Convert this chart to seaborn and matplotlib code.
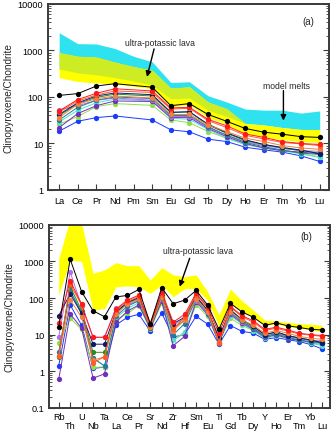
import numpy as np
import pandas as pd
import matplotlib
matplotlib.use("Agg")
import matplotlib.pyplot as plt
import seaborn as sns

# ---------------- data ----------------
ree = ["La", "Ce", "Pr", "Nd", "Pm", "Sm", "Eu", "Gd", "Tb", "Dy", "Ho", "Er", "Tm", "Yb", "Lu"]
spider = ["Rb", "Th", "U", "Nb", "Ta", "La", "Ce", "Pr", "Sr", "Nd", "Zr", "Hf", "Sm", "Eu",
          "Ti", "Gd", "Tb", "Dy", "Y", "Ho", "Er", "Tm", "Yb", "Lu"]
ree_measured = ["La", "Ce", "Pr", "Nd", "Sm", "Eu", "Gd", "Tb", "Dy", "Ho", "Er", "Tm", "Yb", "Lu"]
trace_only = ["Rb", "Th", "U", "Nb", "Ta", "Sr", "Zr", "Hf", "Ti", "Y"]

series_names = ["blue", "lightgreen", "cyan", "purple", "violet", "teal",
                "darkgreen", "navy", "coral", "orangered", "red", "black"]
series_colors = ["#1a3aff", "#8ee04a", "#4fe0d2", "#7030b8", "#b46ee6", "#2c7898",
                 "#2a8a2a", "#0c1a6c", "#f08040", "#ff5a2a", "#ff1a1a", "#000000"]

# REE (La Ce Pr Nd Sm Eu Gd Tb Dy Ho Er Tm Yb Lu)
ree_vals = {
    "black":      [108, 118, 172, 193, 162, 65, 72, 42, 30, 21, 17.5, 15.8, 14, 13.5],
    "red":        [50, 88, 120, 150, 135, 58, 60, 33, 24, 16, 13.5, 11, 10, 9.5],
    "orangered":  [47, 82, 110, 135, 125, 55, 57, 31, 22, 15, 12.5, 10.5, 9.8, 9],
    "coral":      [36, 70, 92, 105, 95, 42, 42, 25, 18, 13, 11, 9, 8, 7.5],
    "navy":       [42, 75, 105, 122, 112, 47, 48, 26, 17, 12, 9.5, 8.2, 7.2, 6],
    "darkgreen":  [40, 72, 98, 115, 105, 46, 48, 25, 16.5, 11.5, 9.5, 8, 7, 6.2],
    "teal":       [32, 60, 85, 100, 92, 40, 40, 23, 15, 10.5, 8.5, 7.2, 6.2, 5.8],
    "violet":     [53, 65, 85, 95, 85, 38, 38, 22, 15, 11, 9, 7.8, 7, 6.8],
    "purple":     [22, 44, 65, 82, 80, 36, 36, 21, 14, 10, 8, 7, 6.5, 6],
    "cyan":       [29, 52, 75, 90, 82, 35, 33, 20, 13, 9.5, 8, 7, 6, 5],
    "lightgreen": [26, 38, 62, 72, 66, 32, 28, 18, 13, 9.5, 8, 7, 6, 5.2],
    "blue":       [18.4, 30, 36, 39, 32, 19.6, 17.8, 12.4, 11, 8.3, 7.3, 6.5, 5.4, 4.1],
}
# other trace elements (Rb Th U Nb Ta Sr Zr Hf Ti Y)
trace_vals = {
    "black":      [16, 1150, 150, 45, 31, 20, 70, 88, 14, 18],
    "red":        [21, 300, 68, 8.5, 8.5, 20, 22, 36, 11, 14],
    "orangered":  [2.7, 240, 65, 1.7, 2.5, 18, 14, 30, 6, 13],
    "coral":      [2.6, 90, 30, 2.0, 2.5, 16, 13, 25, 6.5, 11],
    "navy":       [33, 130, 38, 5.5, 5.5, 18, 20, 30, 8, 10],
    "darkgreen":  [2.5, 210, 45, 3.3, 3.3, 17, 15, 25, 8.5, 10],
    "teal":       [3.3, 160, 40, 2.3, 1.4, 15, 10, 20, 7, 9],
    "violet":     [8.5, 520, 60, 8.5, 8.5, 17, 18, 28, 7, 9],
    "purple":     [0.6, 37, 15, 0.65, 0.85, 15, 5, 9, 6, 8.5],
    "cyan":       [3.3, 170, 35, 2.3, 1.4, 15, 7, 12, 7, 8],
    "lightgreen": [6, 28, 14, 1.3, 1.3, 14, 7, 11, 6, 8],
    "blue":       [1.4, 65, 18, 1.2, 1.3, 12.5, 8.7, 10, 5.5, 7.5],
}

# bands, panel (a) (La..Lu incl. Pm)
melts_upper = [2400, 1400, 1380, 1100, 750, 570, 205, 212, 106, 78, 55, 52, 52, 45, 50]
melts_lower = [400, 330, 300, 260, 220, 180, 92, 95, 52, 38, 27, 25, 22, 20, 20]
lava_a_upper = [900, 750, 720, 560, 450, 375, 155, 165, 78, 56, 27, 25, 22, 20, 20]
lava_a_lower = [260, 215, 200, 190, 170, 150, 62, 68, 36, 26, 16, 14, 12, 11, 10.5]
# band, panel (b)
lava_b_upper = [1200, 15000, 11000, 475, 590, 930, 770, 770, 313, 680, 430, 385, 430, 150,
                35, 175, 85, 47, 25, 24, 21.6, 20, 19.5, 18]
lava_b_lower = [121, 1100, 1000, 47, 52, 205, 215, 205, 135, 230, 110, 180, 183, 88,
                16.5, 72, 42, 30, 18, 20, 16.5, 15, 13.8, 12]

yticks_a = [1, 10, 100, 1000, 10000]
yticks_b = [0.1, 1, 10, 100, 1000, 10000]
ylabels_a = ["1", "10", "100", "1000", "10000"]
ylabels_b = ["0.1", "1", "10", "100", "1000", "10000"]

# ---------------- tables ----------------
rows_a, rows_b = [], []
for s in series_names:
    vals = dict(zip(ree_measured, ree_vals[s]))
    vals.update(dict(zip(trace_only, trace_vals[s])))
    for el in ree_measured:
        rows_a.append({"series": s, "x": ree.index(el), "value": vals[el]})
    for i, el in enumerate(spider):
        rows_b.append({"series": s, "x": i, "value": vals[el]})
df_a = pd.DataFrame(rows_a)
df_b = pd.DataFrame(rows_b)
palette = dict(zip(series_names, series_colors))

# ---------------- style ----------------
sns.set_theme(style="ticks")
plt.rcParams["font.family"] = ["Liberation Sans", "DejaVu Sans"]

fig = plt.figure(figsize=(3.31, 4.35), dpi=100)
ax_a = fig.add_axes([0.145, 0.561, 0.849, 0.4276])
ax_b = fig.add_axes([0.148, 0.060, 0.849, 0.4207])

CYAN = "#2ee3ef"
YELLOW = "#ffff00"
OVERLAP = "#cdec24"

# panel (a) bands
xa = np.arange(len(ree))
mu, ml = np.array(melts_upper), np.array(melts_lower)
lu, ll = np.array(lava_a_upper), np.array(lava_a_lower)
ax_a.fill_between(xa, ml, mu, color=CYAN, lw=0, zorder=1)
ax_a.fill_between(xa, ll, lu, color=YELLOW, lw=0, zorder=1.1)
ov_lo = np.maximum(ml, ll)
ov_hi = np.minimum(mu, lu)
ax_a.fill_between(xa, ov_lo, ov_hi, where=ov_hi > ov_lo, interpolate=True,
                  color=OVERLAP, lw=0, zorder=1.2)

# panel (b) band
xb = np.arange(len(spider))
ax_b.fill_between(xb, lava_b_lower, lava_b_upper, color=YELLOW, lw=0, zorder=1)

for ax, df in ((ax_a, df_a), (ax_b, df_b)):
    sns.lineplot(data=df, x="x", y="value", hue="series", hue_order=series_names,
                 palette=palette, marker="o", markersize=3.8, markeredgewidth=0,
                 linewidth=0.7, estimator=None, legend=False, ax=ax, zorder=3)
    ax.set_yscale("log")
    ax.set_xlabel("")
    ax.set_ylabel("Clinopyroxene/Chondrite", fontsize=7.2, labelpad=3)
    for sp in ax.spines.values():
        sp.set_color("#3a3a3a")
        sp.set_linewidth(1.4)
    ax.tick_params(axis="both", which="both", direction="in", colors="#3a3a3a",
                   labelcolor="black", labelsize=6.6, right=True, top=False)
    ax.tick_params(which="major", length=4, width=0.8)
    ax.tick_params(which="minor", length=2.2, width=0.6)
    ax.tick_params(axis="x", which="minor", bottom=False)

ax_a.set_xlim(-0.6, 14.5)
ax_a.set_ylim(1, 10000)
ax_a.set_yticks(yticks_a)
ax_a.set_yticklabels(ylabels_a)
ax_a.set_xticks(xa)
ax_a.set_xticklabels(ree)
ax_a.tick_params(axis="x", pad=4)

ax_b.set_xlim(-0.85, 23.7)
ax_b.set_ylim(0.1, 10000)
ax_b.set_yticks(yticks_b)
ax_b.set_yticklabels(ylabels_b)
ax_b.set_xticks(xb)
ax_b.set_xticklabels([el if i % 2 == 0 else "\n" + el for i, el in enumerate(spider)],
                     linespacing=1.0)
ax_b.tick_params(axis="x", pad=3)

# annotations
ax_a.text(13.4, 4200, "(a)", fontsize=7, ha="center", va="center")
ax_a.text(5.4, 1500, "ultra-potassic lava", fontsize=6.2, ha="center", va="center")
ax_a.annotate("", xy=(4.72, 270), xytext=(5.1, 1080),
              arrowprops=dict(arrowstyle="-|>", color="black", lw=1.0,
                              mutation_scale=8, shrinkA=0, shrinkB=0), zorder=5)
ax_a.text(12.2, 175, "model melts", fontsize=6.2, ha="center", va="center")
ax_a.annotate("", xy=(12.05, 31), xytext=(12.05, 137),
              arrowprops=dict(arrowstyle="-|>", color="black", lw=1.0,
                              mutation_scale=8, shrinkA=0, shrinkB=0), zorder=5)

ax_b.text(21.6, 5000, "(b)", fontsize=7, ha="center", va="center")
ax_b.text(12.2, 1980, "ultra-potassic lava", fontsize=6.2, ha="center", va="center")
ax_b.annotate("", xy=(10.57, 205), xytext=(11.44, 1225),
              arrowprops=dict(arrowstyle="-|>", color="black", lw=1.0,
                              mutation_scale=8, shrinkA=0, shrinkB=0), zorder=5)

fig.savefig("out.png", dpi=100)
